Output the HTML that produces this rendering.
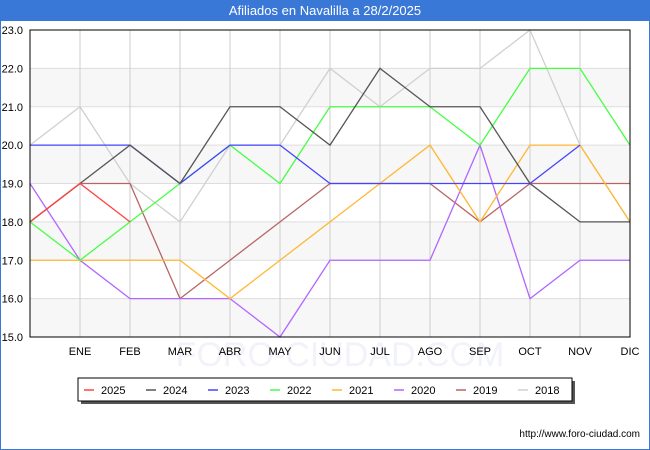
<!DOCTYPE html>
<html><head><meta charset="utf-8"><style>
body{margin:0;width:650px;height:450px;overflow:hidden;background:#fff;font-family:"Liberation Sans",sans-serif}
#wrap{position:absolute;left:0;top:0;width:648px;height:448px;border:1px solid #3a78d8}
#title{position:absolute;left:0;top:0;width:650px;height:21px;background:#3a78d8;color:#fff;font-size:13px;text-align:center;line-height:22px}
</style></head><body>
<div id="wrap"></div>
<div id="title">Afiliados en Navalilla a 28/2/2025</div>
<svg id="chart" width="650" height="450" style="position:absolute;left:0;top:0"></svg>
<script>
const months=["","ENE","FEB","MAR","ABR","MAY","JUN","JUL","AGO","SEP","OCT","NOV","DIC"];
const yTicks=[15,16,17,18,19,20,21,22,23];
const seriesNames=["2025","2024","2023","2022","2021","2020","2019","2018"];
const seriesColors=["#ff4444","#555555","#4444ff","#44ff44","#ffb733","#b266ff","#b86464","#d0d0d0"];
const s2025=[18,19,18];
const s2024=[18,19,20,19,21,21,20,22,21,21,19,18,18];
const s2023=[20,20,20,19,20,20,19,19,19,19,19,20];
const s2022=[18,17,18,19,20,19,21,21,21,20,22,22,20];
const s2021=[17,17,17,17,16,17,18,19,20,18,20,20,18];
const s2020=[19,17,16,16,16,15,17,17,17,20,16,17,17];
const s2019=[18,19,19,16,17,18,19,19,19,18,19,19,19];
const s2018=[20,21,19,18,20,20,22,21,22,22,23,20,18];
const allSeries=[s2025,s2024,s2023,s2022,s2021,s2020,s2019,s2018];
const L=30,R=630,T=30,B=337;
const x=i=>L+i*(R-L)/12;
const y=v=>B-(v-15)*(B-T)/8;
const svg=document.getElementById('chart');
const NS="http://www.w3.org/2000/svg";
function mk(t,a,p){const e=document.createElementNS(NS,t);for(const k in a)e.setAttribute(k,a[k]);(p||svg).appendChild(e);return e;}
const wm=mk('text',{x:340,y:366,'text-anchor':'middle','font-size':'34',fill:'#f1f2fa'});wm.textContent='FORO-CIUDAD.COM';


for(let v=15;v<23;v++){
  if([15,17,19,21].includes(v)){const r=mk('rect',{x:L,y:y(v+1),width:R-L,height:y(v)-y(v+1),fill:'#f7f7f7'});
  
  }}
yTicks.forEach(v=>{const l=mk('line',{x1:L,x2:R,y1:y(v),y2:y(v),stroke:'#dddddd'});


const t=mk('text',{x:L-7,y:y(v)+4,'text-anchor':'end','font-size':'11',fill:'#000'});t.textContent=v.toFixed(1);

});
months.forEach((m,i)=>{if(i>0){const l=mk('line',{x1:x(i),x2:x(i),y1:T,y2:B,stroke:'#cccccc'});


const t=mk('text',{x:x(i),y:B+18,'text-anchor':'middle','font-size':'11',fill:'#000'});t.textContent=m;

}});
for(let k=allSeries.length-1;k>=0;k--){const d=allSeries[k];
  const p=mk('polyline',{points:d.map((v,i)=>x(i)+','+y(v)).join(' '),fill:'none',stroke:seriesColors[k],'stroke-width':'1.3'});
  
  }
const fr=mk('rect',{x:L,y:T,width:R-L,height:B-T,fill:'none',stroke:'#000'});


mk('rect',{x:81,y:381,width:494,height:23,fill:'#555'});
const lb=mk('rect',{x:78,y:378,width:494,height:23,fill:'#fff',stroke:'#000'});


seriesNames.forEach((n,k)=>{const lx=84+k*62;
  const ln=mk('line',{x1:lx,x2:lx+10,y1:390,y2:390,stroke:seriesColors[k],'stroke-width':'1.5'});
  
  
  const t=mk('text',{x:lx+17,y:394,'font-size':'11',fill:'#000'});t.textContent=n;
  
  });
const ft=mk('text',{x:640,y:437,'text-anchor':'end','font-size':'10',fill:'#000'});ft.textContent='http://www.foro-ciudad.com';


</script>
</body></html>
